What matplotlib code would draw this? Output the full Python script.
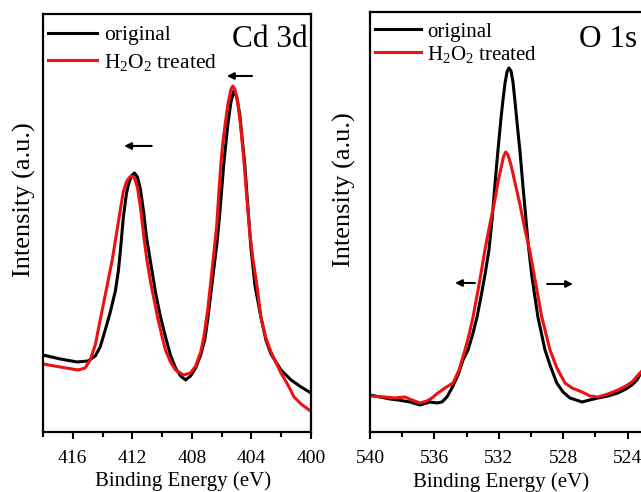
import matplotlib
matplotlib.use('Agg')
import matplotlib.pyplot as plt
from matplotlib.ticker import MultipleLocator

plt.rcParams['font.family'] = 'Liberation Serif'
plt.rcParams['mathtext.fontset'] = 'custom'
plt.rcParams['mathtext.rm'] = 'Liberation Serif'
plt.rcParams['mathtext.it'] = 'Liberation Serif:italic'

# Cd 3d region
cd_e_orig = [418.00, 416.85, 415.71, 414.97, 414.49, 414.16, 413.82, 413.48, 413.14, 412.94,
             412.81, 412.61, 412.40, 412.27, 412.07, 411.86, 411.66, 411.46, 411.26, 411.05,
             410.78, 410.45, 410.11, 409.77, 409.44, 409.10, 408.76, 408.42, 408.09, 407.75,
             407.41, 407.14, 406.94, 406.74, 406.54, 406.33, 406.13, 405.86, 405.59, 405.39,
             405.19, 404.99, 404.78, 404.65, 404.45, 404.24, 404.04, 403.77, 403.37, 403.03,
             402.69, 402.02, 401.34, 400.67, 400.00]
cd_i_orig = [77, 73, 70, 71, 76, 85, 102, 120, 141, 161,
             180, 214, 238, 247, 256, 259, 255, 243, 222, 195,
             170, 140, 115, 95, 77, 64, 56, 52, 56, 64,
             77, 92, 112, 137, 162, 187, 218, 268, 307, 329,
             341, 335, 317, 297, 268, 225, 185, 147, 115, 92,
             78, 62, 52, 45, 39]

cd_e_h2o2 = [418.00, 416.85, 415.64, 415.17, 414.83, 414.49, 414.16, 413.82, 413.62, 413.35,
             413.08, 412.81, 412.61, 412.40, 412.23, 412.07, 411.86, 411.66, 411.43, 411.22,
             411.02, 410.78, 410.31, 409.98, 409.77, 409.44, 409.10, 408.56, 408.09, 407.75,
             407.41, 407.21, 406.94, 406.74, 406.54, 406.33, 406.20, 406.06, 405.93, 405.79,
             405.59, 405.39, 405.26, 405.12, 404.92, 404.72, 404.51, 404.31, 404.11, 403.91,
             403.64, 403.37, 403.03, 402.69, 402.02, 401.55, 401.14, 400.67, 400.13, 400.00]
cd_i_h2o2 = [68, 65, 62, 64, 72, 87, 112, 137, 152, 172,
             197, 222, 240, 250, 254, 256, 254, 245, 222, 194,
             172, 150, 115, 94, 82, 70, 62, 57, 59, 66,
             80, 94, 122, 149, 177, 207, 237, 267, 288, 305,
             327, 342, 346, 343, 330, 305, 272, 234, 199, 174,
             147, 115, 94, 80, 59, 47, 35, 28, 22, 21]

# O 1s region
o_e_orig = [540.00, 539.38, 538.76, 538.26, 537.52, 536.89, 536.27, 535.84, 535.53, 535.22,
            534.91, 534.53, 534.22, 533.91, 533.60, 533.35, 533.11, 532.86, 532.61, 532.42,
            532.24, 532.05, 531.86, 531.74, 531.61, 531.49, 531.37, 531.24, 531.12, 530.99,
            530.87, 530.68, 530.50, 530.31, 530.16, 529.94, 529.57, 529.13, 528.82, 528.40,
            528.01, 527.58, 527.20, 526.83, 526.34, 525.84, 525.22, 524.60, 524.10, 523.73,
            523.42, 523.17]
o_i_orig = [37, 35, 33, 32, 30, 27, 30, 29, 30, 35,
            44, 57, 72, 82, 99, 115, 135, 157, 182, 212,
            247, 282, 314, 332, 349, 360, 364, 361, 350, 330,
            310, 280, 246, 212, 186, 155, 115, 82, 67, 49,
            40, 34, 32, 30, 32, 34, 36, 39, 43, 47,
            52, 59]

o_e_h2o2 = [540.00, 539.07, 538.45, 537.83, 537.39, 536.89, 536.46, 536.15, 535.78, 535.34,
            534.84, 534.47, 534.10, 533.85, 533.60, 533.23, 532.86, 532.55, 532.24, 532.05,
            531.86, 531.71, 531.57, 531.43, 531.24, 530.99, 530.68, 530.37, 530.06, 529.69,
            529.33, 528.82, 528.39, 527.89, 527.45, 526.83, 526.34, 525.84, 525.22, 524.60,
            524.10, 523.73, 523.17]
o_i_h2o2 = [36, 35, 34, 35, 32, 29, 31, 34, 39, 44,
            49, 62, 82, 97, 115, 147, 182, 208, 232, 250,
            264, 275, 280, 277, 267, 249, 227, 202, 180, 147,
            115, 82, 64, 49, 44, 40, 36, 35, 38, 42,
            46, 50, 60]

# shift arrows: (start eV, end eV, intensity)
cd_arrows = [(410.7, 412.55, 286), (403.96, 405.65, 356)]
o_arrows = [(533.48, 534.72, 149), (529.0, 527.39, 148)]

fig = plt.figure(figsize=(6.41, 4.92), dpi=100)
ax1 = fig.add_axes([0.0671, 0.1220, 0.4181, 0.8496])
ax2 = fig.add_axes([0.5772, 0.1220, 0.4270, 0.8537])

# per panel: axes, data, arrows, x range, y top, name, name pos, legend opts, label coords
panels = [
    (ax1, cd_e_orig, cd_i_orig, cd_e_h2o2, cd_i_h2o2, cd_arrows, (418, 400), 418,
     'Cd 3d', (0.989, 0.921),
     dict(fontsize=15.5, bbox_to_anchor=(0.018, 0.973), handlelength=2.3, labelspacing=0.3),
     (-0.026, 0.555), (0.524, -0.095)),
    (ax2, o_e_orig, o_i_orig, o_e_h2o2, o_i_h2o2, o_arrows, (540, 523), 420,
     'O 1s', (0.9755, 0.917),
     dict(fontsize=15, bbox_to_anchor=(0.018, 0.976), handlelength=2.2, labelspacing=0.1),
     (-0.051, 0.576), (0.479, -0.095)),
]

for (ax, e0, i0, e1, i1, arrows, xlim, ytop, name, name_pos, leg_kw,
     ylab_pos, xlab_pos) in panels:
    ax.plot(e0, i0, color='black', lw=2.2, label='original')
    ax.plot(e1, i1, color='#ee1111', lw=2.2, label='H$_2$O$_2$ treated')
    ax.set_xlim(*xlim)
    ax.set_ylim(0, ytop)
    for x_start, x_end, y in arrows:
        ax.annotate('', xy=(x_end, y), xytext=(x_start, y),
                    arrowprops=dict(arrowstyle='-|>', color='black', lw=1.5,
                                    mutation_scale=10, shrinkA=0, shrinkB=0))
    ax.xaxis.set_major_locator(MultipleLocator(4))
    ax.xaxis.set_minor_locator(MultipleLocator(2))
    ax.tick_params(axis='x', which='major', direction='out', length=5, width=1.5,
                   labelsize=14, pad=8)
    ax.tick_params(axis='x', which='minor', direction='out', length=3.5, width=1.5)
    ax.set_yticks([])
    for sp in ax.spines.values():
        sp.set_linewidth(1.6)
    ax.set_xlabel('Binding Energy (eV)', fontsize=15)
    ax.set_ylabel('Intensity (a.u.)', fontsize=19)
    ax.yaxis.set_label_coords(*ylab_pos)
    ax.xaxis.set_label_coords(*xlab_pos)
    ax.text(name_pos[0], name_pos[1], name, transform=ax.transAxes, ha='right',
            va='baseline', fontsize=22.5)
    ax.legend(loc='upper left', frameon=False, handletextpad=0.3, borderpad=0,
              borderaxespad=0, **leg_kw)

fig.savefig('out.png', dpi=100)
